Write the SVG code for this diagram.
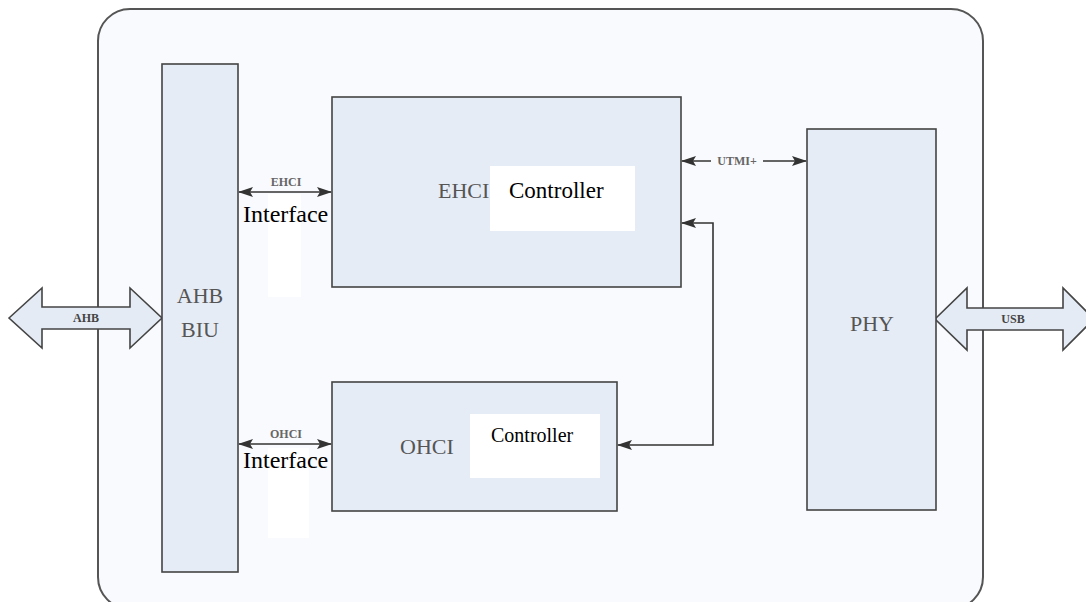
<svg xmlns="http://www.w3.org/2000/svg" width="1086" height="602" viewBox="0 0 1086 602">
  <defs>
    <marker id="ah" markerWidth="15" markerHeight="10" refX="14" refY="5" orient="auto-start-reverse" markerUnits="userSpaceOnUse">
      <path d="M0,0 L15,5 L0,10 L3,5 Z" fill="#333"/>
    </marker>
    <style>
      .box { fill: #e6ecf6; stroke: #444; stroke-width: 1.6; }
      .blk { fill: #e4ebf4; stroke: #444; stroke-width: 1.6; }
      .wire { fill: none; stroke: #333; stroke-width: 1.6; }
      .patch { fill: #ffffff; }
    </style>
  </defs>

  <rect x="0" y="0" width="1086" height="602" fill="#ffffff"/>

  <!-- outer chip boundary -->
  <rect id="chip" x="98" y="9" width="885" height="600" rx="32" ry="32" fill="#f9fafd" stroke="#555" stroke-width="2"/>

  <!-- bus block arrows -->
  <g id="ahb-bus">
    <path class="blk" d="M9,318 L42,288 L42,307 L130,307 L130,288 L162,318 L130,348 L130,329 L42,329 L42,348 Z"/>
    <text x="86" y="322" text-anchor="middle" font-family="'Liberation Serif', 'Times New Roman', serif" font-weight="bold" font-size="12" fill="#444">AHB</text>
  </g>
  <g id="usb-bus">
    <path class="blk" d="M935,319 L967,288 L967,308 L1063,308 L1063,288 L1094,319 L1063,350 L1063,330 L967,330 L967,350 Z"/>
    <text x="1013" y="323" text-anchor="middle" font-family="'Liberation Serif', 'Times New Roman', serif" font-weight="bold" font-size="12" fill="#444">USB</text>
  </g>

  <g id="ahb-biu" font-family="'Liberation Serif', 'Times New Roman', serif" font-size="22" fill="#555">
    <rect class="box" x="162" y="64" width="76" height="508"/>
    <text x="200" y="303" text-anchor="middle">AHB</text>
    <text x="200" y="337" text-anchor="middle">BIU</text>
  </g>

  <g id="ehci" font-family="'Liberation Serif', 'Times New Roman', serif">
    <rect class="box" x="332" y="97" width="349" height="190"/>
    <text x="438" y="198" font-size="22" fill="#555">EHCI</text>
    <rect class="patch" x="490" y="166" width="145" height="65"/>
    <text x="509" y="198" font-size="23" fill="#000">Controller</text>
  </g>

  <g id="ohci" font-family="'Liberation Serif', 'Times New Roman', serif">
    <rect class="box" x="332" y="382" width="285" height="129"/>
    <text x="400" y="454" font-size="22" fill="#555">OHCI</text>
    <rect class="patch" x="470" y="414" width="130" height="64"/>
    <text x="491" y="442" font-size="20" fill="#000">Controller</text>
  </g>

  <g id="phy" font-family="'Liberation Serif', 'Times New Roman', serif">
    <rect class="box" x="807" y="129" width="129" height="381"/>
    <text x="872" y="331" font-size="22" fill="#555" text-anchor="middle">PHY</text>
  </g>

  <!-- interface links -->
  <g id="connectors">
    <line class="wire" x1="239" y1="192" x2="331" y2="192" marker-start="url(#ah)" marker-end="url(#ah)"/>
    <line class="wire" x1="239" y1="444" x2="331" y2="444" marker-start="url(#ah)" marker-end="url(#ah)"/>
    <line class="wire" x1="682" y1="161" x2="806" y2="161" marker-start="url(#ah)" marker-end="url(#ah)"/>
    <path class="wire" d="M682,223 L713,223 L713,445 L618,445" marker-start="url(#ah)" marker-end="url(#ah)"/>
  </g>

  <g id="link-labels" font-family="'Liberation Serif', 'Times New Roman', serif">
    <rect x="711" y="153" width="52" height="16" fill="#f9fafd"/>
    <text x="737" y="165" text-anchor="middle" font-weight="bold" font-size="12" fill="#666">UTMI+</text>
    <rect x="262" y="175" width="48" height="12" fill="#f9fafd"/>
    <text x="286" y="186" text-anchor="middle" font-weight="bold" font-size="12" fill="#666">EHCI</text>
    <rect x="262" y="427" width="48" height="12" fill="#f9fafd"/>
    <text x="286" y="438" text-anchor="middle" font-weight="bold" font-size="12" fill="#666">OHCI</text>
    <rect class="patch" x="268" y="194" width="33" height="103"/>
    <rect class="patch" x="268" y="448" width="41" height="90"/>
    <text x="243" y="222" font-size="24" fill="#000">Interface</text>
    <text x="243" y="468" font-size="24" fill="#000">Interface</text>
  </g>
</svg>
